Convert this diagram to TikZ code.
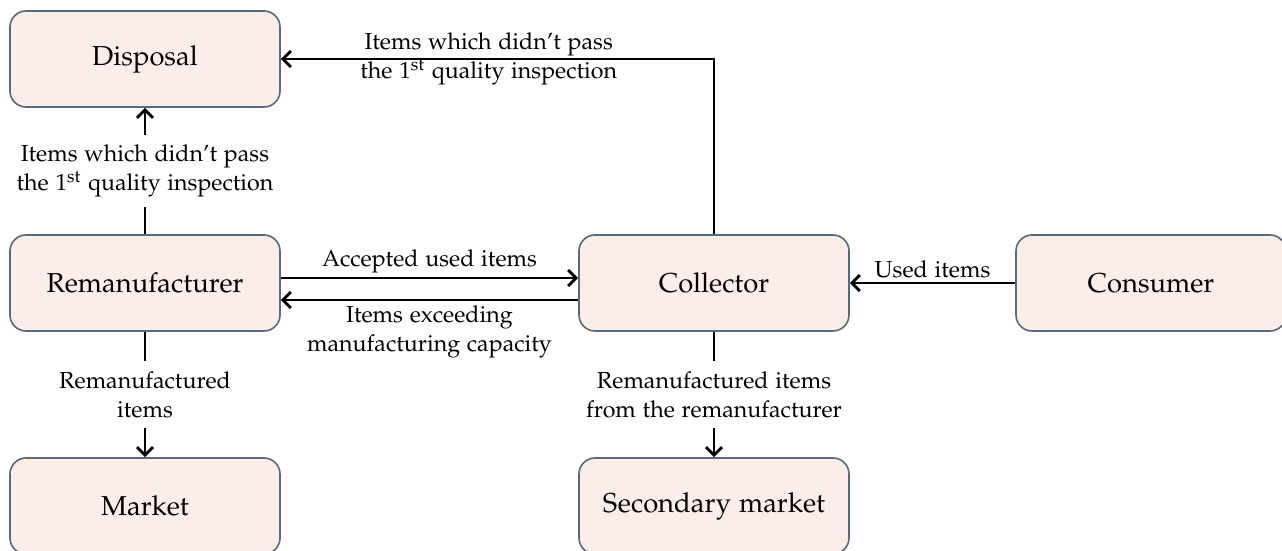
\documentclass[tikz,border=0pt]{standalone}
\usepackage[T1]{fontenc}
\usepackage[sc]{mathpazo}
\usepackage{tikz}
\usetikzlibrary{arrows.meta}

\definecolor{boxfill}{RGB}{251,238,232}
\definecolor{boxline}{RGB}{88,104,128}

\tikzset{
    block/.style = {draw = boxline, fill = boxfill, line width = 0.8pt,
        rounded corners = 8pt, minimum width = 135pt, minimum height = 48pt,
        font = \fontsize{13.7}{17}\selectfont},
    flow/.style = {line width = 1.4pt, -{Straight Barb[length = 4pt, width = 8pt]}},
    lbl/.style = {align = center, font = \fontsize{11.6}{14.5}\selectfont, inner sep = 2pt}
}

\begin{document}
\begin{tikzpicture}[x = 0.5pt, y = -0.5pt]
    \useasboundingbox (0,0) rectangle (1282,551);

    % boxes
    \node[block] (disposal)  at (145,59)  {Disposal};
    \node[block] (reman)     at (145,283) {Remanufacturer};
    \node[block] (market)    at (145,506) {Market};
    \node[block] (collector) at (714,283) {Collector};
    \node[block] (secmarket) at (714,506) {Secondary market};
    \node[block] (consumer)  at (1151,283) {Consumer};

    % flows between them
    \draw[flow] (reman.north) --
        node[lbl, fill = white, inner sep = 5pt]{Items which didn't pass\\the 1\textsuperscript{st} quality inspection}
        (disposal.south);

    \draw[flow] (reman.south) --
        node[lbl, fill = white, inner sep = 5pt]{Remanufactured\\items}
        (market.north);

    \draw[flow] (collector.south) --
        node[lbl, fill = white, inner sep = 5pt]{Remanufactured items\\from the remanufacturer}
        (secmarket.north);

    \draw[flow] ([yshift = 2.5pt]reman.east) --
        node[lbl, above]{Accepted used items}
        ([yshift = 2.5pt]collector.west);

    \draw[flow] ([yshift = -8.5pt]collector.west) --
        node[lbl, below]{Items exceeding\\manufacturing capacity}
        ([yshift = -8.5pt]reman.east);

    \draw[flow] (consumer.west) --
        node[lbl, above]{Used items}
        (collector.east);

    \draw[flow] (collector.north) |-
        node[lbl, pos = 0.76]{Items which didn't pass\\the 1\textsuperscript{st} quality inspection}
        (disposal.east);
\end{tikzpicture}
\end{document}
